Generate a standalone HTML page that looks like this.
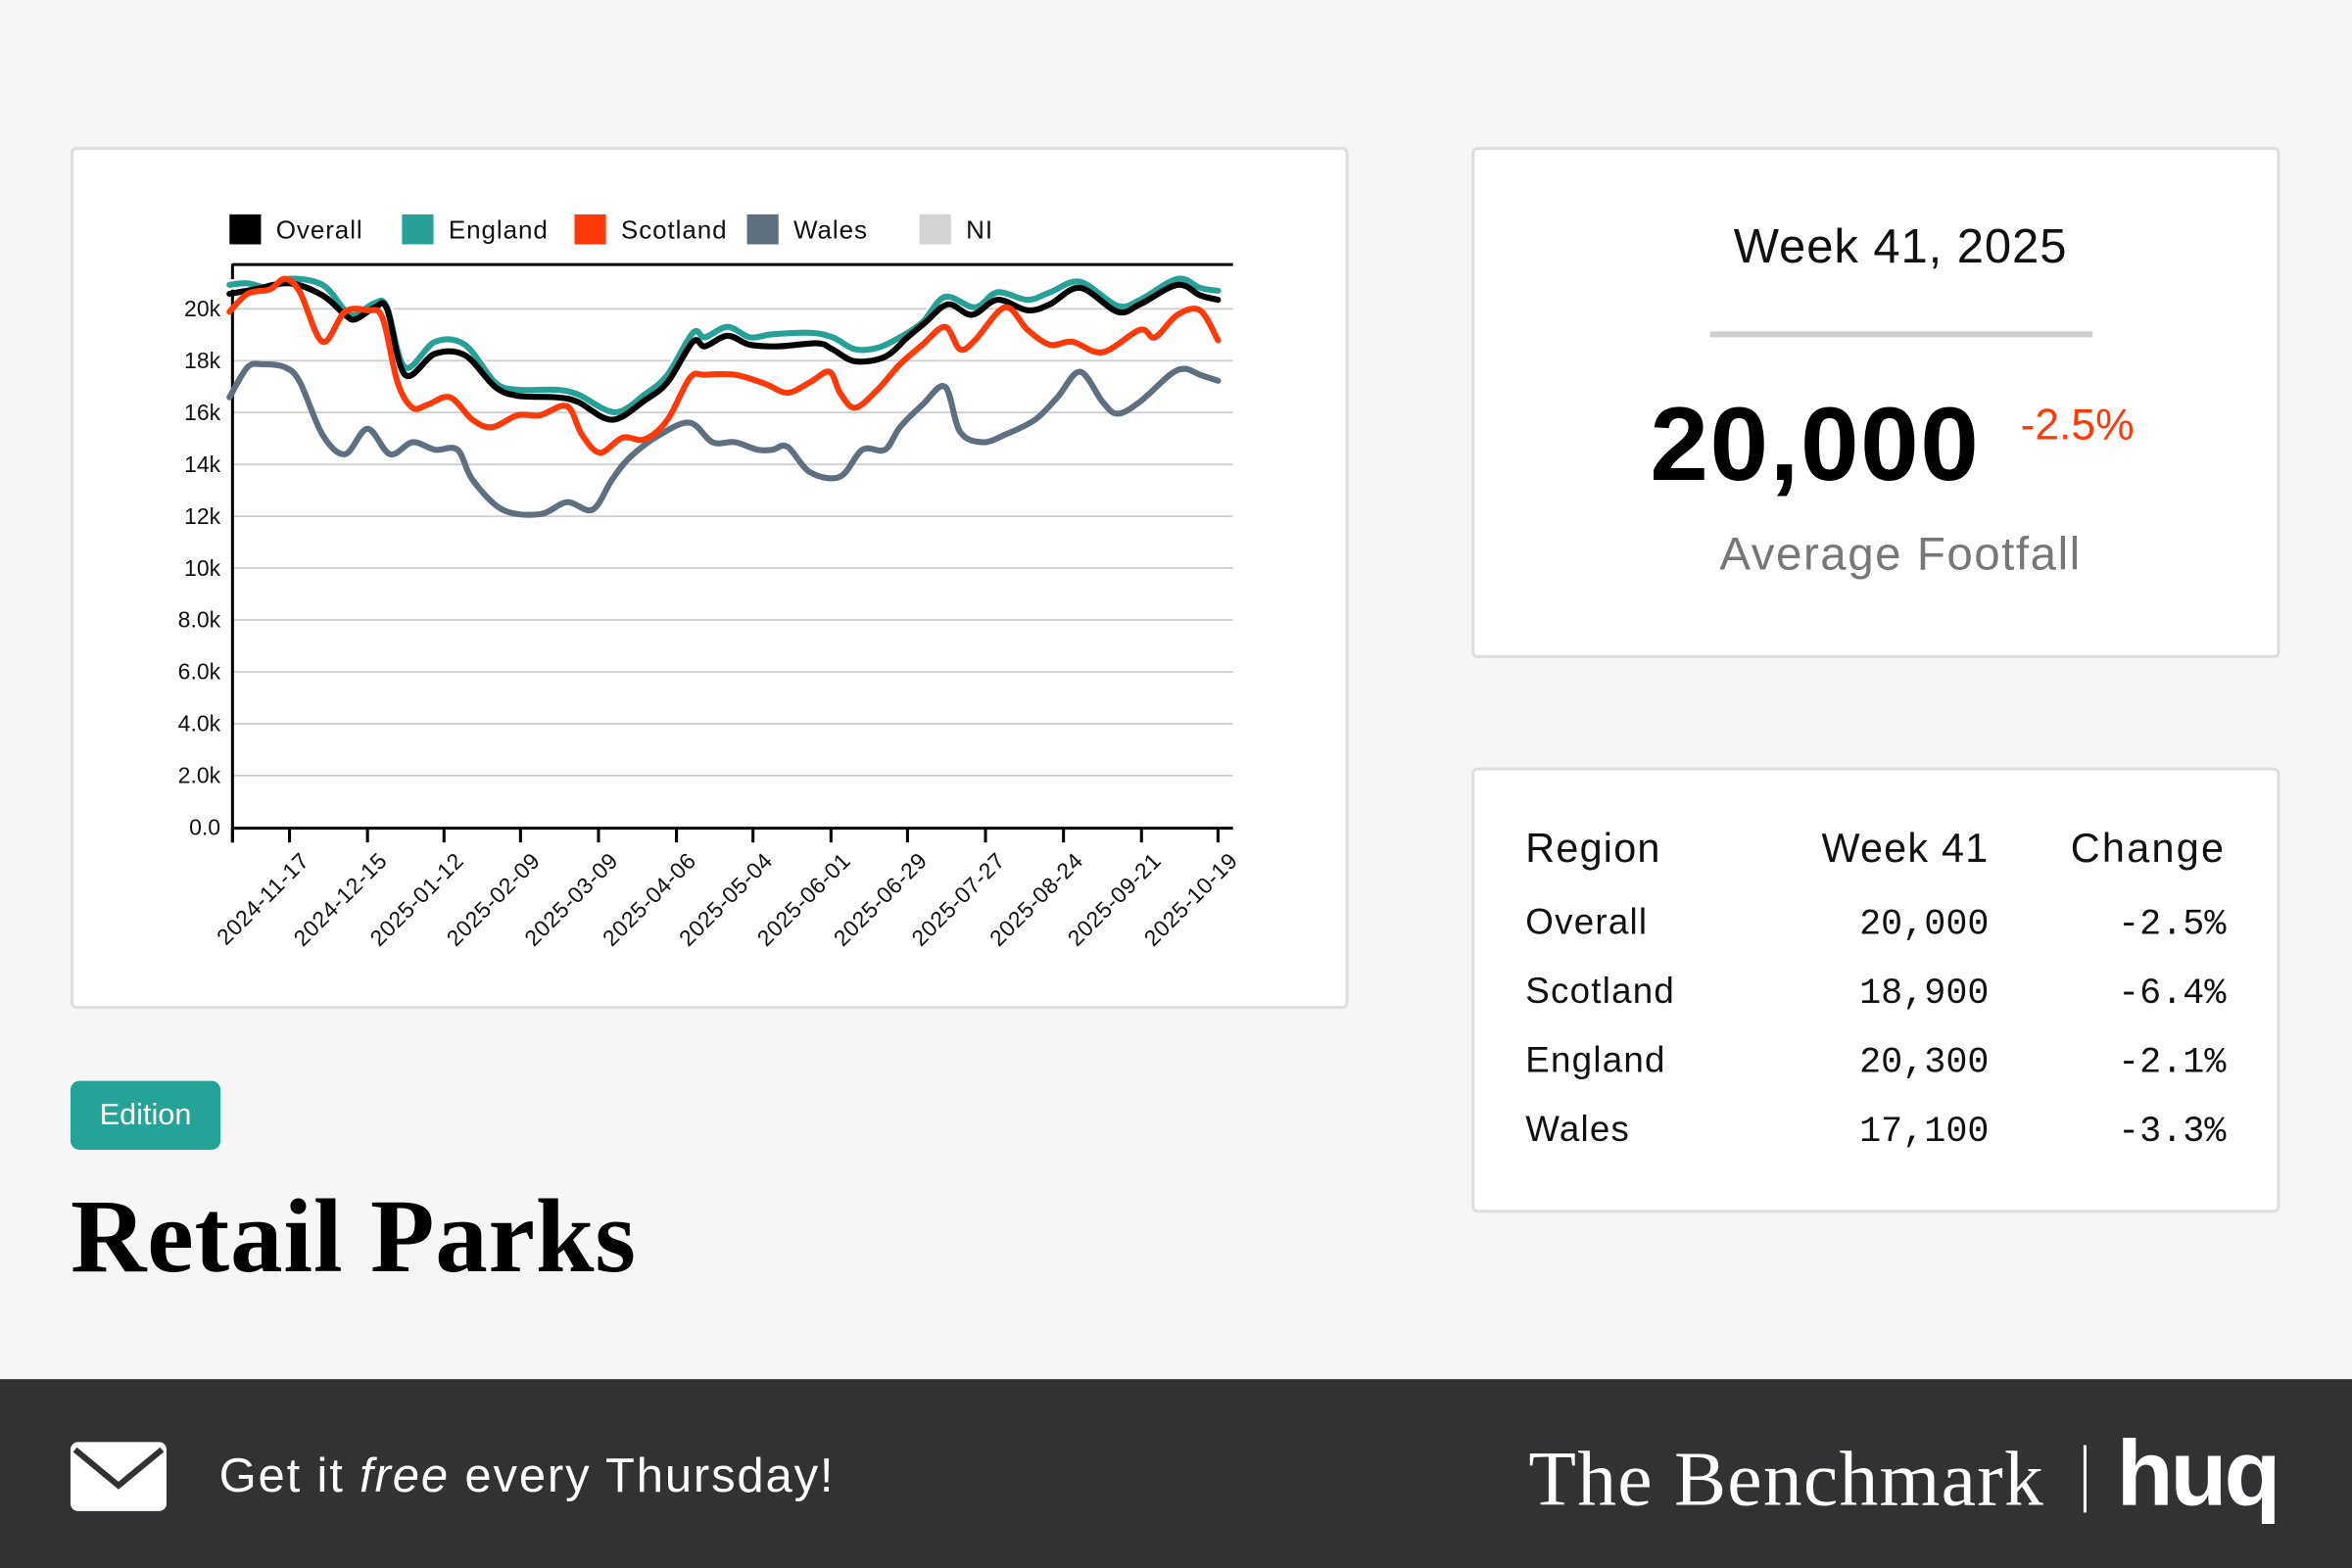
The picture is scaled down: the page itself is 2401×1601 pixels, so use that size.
<!DOCTYPE html>
<html><head><meta charset="utf-8"><style>
html,body{margin:0;padding:0;width:2401px;height:1601px;overflow:hidden;background:#f6f6f6;}
#w{position:absolute;left:0;top:0;width:1568px;height:1046px;transform:scale(1.53125,1.5306);transform-origin:0 0;font-family:"Liberation Sans",sans-serif;}
.card{position:absolute;background:#fff;border:2px solid #dedede;border-radius:4px;box-sizing:border-box;}
.t{position:absolute;white-space:nowrap;}
.mono{font-family:"Liberation Mono",monospace;}
</style></head><body><div id="w">
<div class="card" style="left:47px;top:98px;width:852px;height:575px"></div>
<svg style="position:absolute;left:0;top:0" width="1568" height="1046" font-family="Liberation Sans, sans-serif">
<g font-size="17" fill="#111" letter-spacing="0.6">
<rect x="153" y="143" width="21" height="20" fill="#000"/><text x="184" y="159">Overall</text>
<rect x="268" y="143" width="21" height="20" fill="#27a197"/><text x="299" y="159">England</text>
<rect x="383" y="143" width="21" height="20" fill="#ff3a0a"/><text x="414" y="159">Scotland</text>
<rect x="498" y="143" width="21" height="20" fill="#5e6f7f"/><text x="529" y="159">Wales</text>
<rect x="613" y="143" width="21" height="20" fill="#d3d3d3"/><text x="644" y="159">NI</text>
</g>
<g stroke="#cfcfcf" stroke-width="1.2" id="grid"></g>
<line x1="155" y1="176.5" x2="822" y2="176.5" stroke="#000" stroke-width="2"/>
<line x1="155" y1="176" x2="155" y2="562" stroke="#000" stroke-width="2"/>
<line x1="155" y1="552.5" x2="822" y2="552.5" stroke="#000" stroke-width="2"/>
<g id="yl" font-size="15" fill="#111" text-anchor="end"></g>
<g id="xl" font-size="15" fill="#111" text-anchor="end" letter-spacing="0.4"></g>
<g id="lines" fill="none" stroke-width="4" stroke-linejoin="round" stroke-linecap="round"></g>
</svg>

<div class="card" style="left:981px;top:98px;width:539px;height:341px"></div>
<div class="t" style="left:1000px;width:534px;top:146px;text-align:center;font-size:32px;color:#111;letter-spacing:0.6px">Week 41, 2025</div>
<div style="position:absolute;left:1140px;top:221px;width:255px;height:4px;background:#cfcfcf"></div>
<div class="t" style="left:1100px;top:256px;font-size:70px;font-weight:bold;color:#000;letter-spacing:1px">20,000</div>
<div class="t" style="left:1347px;top:268px;font-size:29px;color:#ff3a0a">-2.5%</div>
<div class="t" style="left:1000px;width:534px;top:352px;text-align:center;font-size:31px;color:#777;letter-spacing:1px">Average Footfall</div>

<div class="card" style="left:981px;top:512px;width:539px;height:297px"></div>
<div class="t" style="left:1017px;top:551px;font-size:27px;color:#111;letter-spacing:0.8px">Region</div>
<div class="t" style="left:1150px;width:176px;text-align:right;top:551px;font-size:27px;color:#111;letter-spacing:0.8px">Week 41</div>
<div class="t" style="left:1330px;width:154px;text-align:right;top:551px;font-size:27px;color:#111;letter-spacing:1.5px">Change</div>
<div id="rows"></div>

<div style="position:absolute;left:47px;top:721px;width:100px;height:46px;background:#25a399;border-radius:6px;color:#fff;font-size:20px;text-align:center;line-height:46px">Edition</div>
<div class="t" style="left:47px;top:786px;font-family:'Liberation Serif',serif;font-weight:bold;font-size:70px;color:#000;letter-spacing:0.5px">Retail Parks</div>

<div style="position:absolute;left:0;top:920px;width:1568px;height:126px;background:#313234"></div>
<svg style="position:absolute;left:46px;top:961px" width="66" height="48"><rect x="1" y="1" width="64" height="46" rx="5" fill="#fff"/><path d="M4 6 L33 30 L62 6" stroke="#313234" stroke-width="4" fill="none"/></svg>
<div class="t" style="left:146px;top:966px;font-size:32px;color:#fff;letter-spacing:1.2px">Get it <i>free</i> every Thursday!</div>
<div class="t" style="left:1019px;top:958px;font-family:'Liberation Serif',serif;font-size:52px;color:#fff;letter-spacing:0.8px">The Benchmark</div>
<div style="position:absolute;left:1389px;top:964px;width:2px;height:45px;background:#fff"></div>
<div class="t" style="left:1411px;top:948px;font-size:62px;font-weight:bold;color:#fff;letter-spacing:-2px">huq</div>
</div>
<script>
var NS="http://www.w3.org/2000/svg";
function el(p,t,a,tx){var e=document.createElementNS(NS,t);for(var k in a)e.setAttribute(k,a[k]);if(tx)e.textContent=tx;document.getElementById(p).appendChild(e);}
var lab=["0.0","2.0k","4.0k","6.0k","8.0k","10k","12k","14k","16k","18k","20k"];
for(var i=0;i<11;i++){var y=552-i*34.6;if(i>0)el("grid","line",{x1:155,x2:822,y1:y,y2:y});el("yl","text",{x:147,y:y+5},lab[i]);}
var xs=[193,245,296,347,399,451,502,554,605,657,709,761,812];
var xd=["2024-11-17","2024-12-15","2025-01-12","2025-02-09","2025-03-09","2025-04-06","2025-05-04","2025-06-01","2025-06-29","2025-07-27","2025-08-24","2025-09-21","2025-10-19"];
el("grid","line",{x1:155,x2:155,y1:552,y2:562,stroke:"#000","stroke-width":2});
xs.forEach(function(x,i){el("grid","line",{x1:x,x2:x,y1:552,y2:562,stroke:"#000","stroke-width":2});el("xl","text",{x:x+14,y:575,transform:"rotate(-45 "+(x+14)+" 575)"},xd[i]);});
function path(p){var d="M"+p[0]+","+p[1];var n=p.length/2;for(var i=0;i<n-1;i++){var x0=p[2*Math.max(i-1,0)],y0=p[2*Math.max(i-1,0)+1],x1=p[2*i],y1=p[2*i+1],x2=p[2*i+2],y2=p[2*i+3],j=Math.min(i+2,n-1),x3=p[2*j],y3=p[2*j+1];d+="C"+(x1+(x2-x0)/6)+","+(y1+(y2-y0)/6)+" "+(x2-(x3-x1)/6)+","+(y2-(y3-y1)/6)+" "+x2+","+y2;}return d;}
var S={
"#5e6f7f":[153,265,165,245,175,243,190,245,200,255,215,290,230,303,245,286,260,303,275,295,290,300,305,300,315,320,335,340,360,343,378,335,395,340,408,320,420,305,440,290,460,282,475,295,490,295,505,300,515,300,525,298,540,315,560,318,575,300,590,300,600,285,615,270,630,258,640,288,655,295,670,290,690,280,705,265,720,248,735,268,745,276,760,268,780,250,790,246,800,250,812,254],
"#27a197":[153,190,165,189,180,192,193,186,215,190,230,207,237,210,250,202,258,205,270,245,290,228,310,230,330,255,345,260,370,260,385,263,410,275,430,263,445,250,462,222,470,225,485,218,500,225,515,223,540,222,555,225,570,233,585,232,600,225,615,215,630,198,650,205,665,195,685,200,700,195,720,188,745,204,760,200,785,186,800,192,812,194],
"#000":[153,196,170,193,193,189,215,197,230,210,237,213,250,205,258,206,270,250,290,236,310,237,330,258,345,264,370,265,385,268,408,280,430,267,445,255,462,228,470,231,485,224,500,230,520,231,545,229,555,233,570,241,590,238,605,225,617,215,632,203,648,210,665,200,685,207,700,203,720,192,745,208,760,203,785,190,800,197,812,200],
"#ff3a0a":[153,208,165,196,180,193,190,186,200,195,215,228,230,208,245,207,255,212,265,255,275,272,285,270,300,265,315,280,328,285,345,277,360,277,378,271,388,290,400,302,415,292,430,293,445,280,460,252,470,250,490,250,510,256,525,262,540,255,553,248,560,262,570,272,585,260,600,243,615,230,630,218,640,233,650,227,670,205,685,220,700,230,715,228,735,235,760,220,770,225,785,210,800,207,812,227]};
for(var c in S){if(c=="#27a197")el("lines","path",{d:path(S[c]),stroke:"#fff","stroke-width":7});el("lines","path",{d:path(S[c]),stroke:c});}
var R=[["Overall","20,000","-2.5%"],["Scotland","18,900","-6.4%"],["England","20,300","-2.1%"],["Wales","17,100","-3.3%"]];
var h="";R.forEach(function(r,i){var t=602+i*46;h+='<div class="t" style="left:1017px;top:'+t+'px;font-size:24px;color:#111;letter-spacing:0.8px">'+r[0]+'</div><div class="t mono" style="left:1150px;width:176px;text-align:right;top:'+(t+2)+'px;font-size:24px;color:#111">'+r[1]+'</div><div class="t mono" style="left:1330px;width:154px;text-align:right;top:'+(t+2)+'px;font-size:24px;color:#111">'+r[2]+'</div>';});
document.getElementById("rows").innerHTML=h;
</script>
</body></html>
